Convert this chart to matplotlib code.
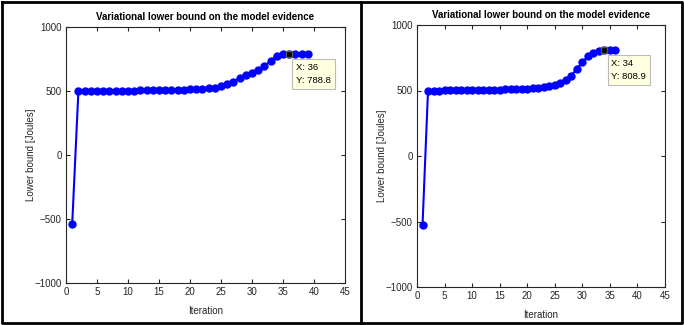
import matplotlib.pyplot as plt
from matplotlib.lines import Line2D

plt.rcParams['font.family'] = ['Liberation Sans', 'DejaVu Sans']

# left run: 39 iterations, data tip at 36
left_bound = [-540, 500, 500, 500, 501, 501, 502, 502, 502, 503,
              503, 504, 504, 505, 505, 506, 507, 508, 510, 512,
              514, 517, 520, 526, 537, 553, 574, 600, 624, 640,
              663, 694, 736, 773, 787, 788.8, 790, 790, 791]
left_tip = 36

# right run: 36 iterations, data tip at 34
right_bound = [-530, 500, 500, 500, 501, 501, 502, 502, 503, 503,
               504, 504, 505, 506, 507, 508, 509, 511, 513, 515,
               518, 522, 528, 535, 543, 558, 578, 614, 667, 715,
               760, 788, 801, 808.9, 810, 811]
right_tip = 34

W, H = 684, 325
fig = plt.figure(figsize=(W / 100, H / 100), dpi=100)
grey = '#262626'


def px_axes(l, t, r, b):
    return fig.add_axes([l / W, 1 - b / H, (r - l) / W, (b - t) / H])


def draw(ax, vals, tip):
    it = list(range(1, len(vals) + 1))
    ax.plot(it, vals, '-o', color='blue', lw=1.5, ms=5, mfc='blue', mec='blue')
    ax.plot([tip], [vals[tip - 1]], 's', color='black', ms=4.5, mec='#555555')
    ax.annotate('X: %d\nY: %.1f' % (tip, vals[tip - 1]),
                xy=(tip, vals[tip - 1]), xytext=(7, -9), textcoords='offset pixels',
                ha='left', va='top', fontsize=6.8, linespacing=1.6, color='black',
                bbox=dict(boxstyle='square,pad=0.4', fc='#ffffe1', ec='#bbbbbb', lw=0.8))
    ax.set_xlim(0, 45)
    ax.set_ylim(-1000, 1000)
    ax.set_xticks(range(0, 46, 5))
    ax.set_yticks([-1000, -500, 0, 500, 1000])
    ax.tick_params(direction='in', top=True, right=True, labelsize=7, length=3,
                   pad=3, colors=grey)
    for s in ax.spines.values():
        s.set_color(grey)
    ax.set_title('Variational lower bound on the model evidence', fontsize=7,
                 fontweight='bold', pad=5)
    ax.set_xlabel('Iteration', fontsize=7, labelpad=6, color=grey)
    ax.set_ylabel('Lower bound [Joules]', fontsize=7, labelpad=-1, color=grey)


ax1 = px_axes(66, 27, 345, 283)
draw(ax1, left_bound, left_tip)
ax2 = px_axes(417, 25, 665, 287)
draw(ax2, right_bound, right_tip)

# frame around the two panels
frame = dict(color='black', lw=2, transform=fig.transFigure)
fig.add_artist(Line2D([2 / W, 682 / W, 682 / W, 2 / W, 2 / W],
                      [1 - 2 / H, 1 - 2 / H, 1 - 323 / H, 1 - 323 / H, 1 - 2 / H], **frame))
fig.add_artist(Line2D([361 / W, 361 / W], [1 - 2 / H, 1 - 323 / H], **frame))

fig.savefig('out.png', dpi=100)
